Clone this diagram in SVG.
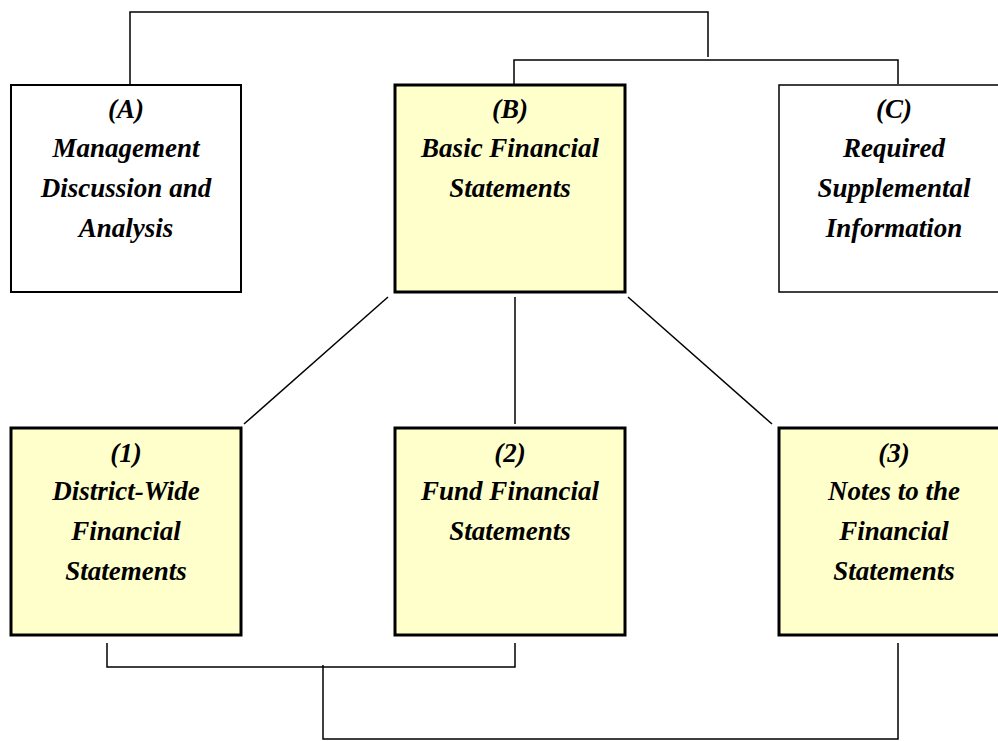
<svg xmlns="http://www.w3.org/2000/svg" width="998" height="741" viewBox="0 0 998 741">
<style>
.box{stroke:#000}
.y{fill:#FFFFCC;stroke-width:3}
.w{fill:#fff;stroke-width:2}
text{font-family:"Liberation Serif",serif;font-style:italic;font-weight:bold;font-size:27px;fill:#000;text-anchor:middle}
.c line,.c polyline{stroke:#000;stroke-width:1.5;fill:none}
</style>
<rect width="998" height="741" fill="#fff"/>
<g class="c" id="connectors">
<polyline points="130,84 130,12 708,12 708,57"/>
<polyline points="514,84 514,60 898,60 898,84"/>
<line x1="388" y1="297" x2="244" y2="424"/>
<line x1="515" y1="297" x2="515" y2="424"/>
<line x1="628" y1="297" x2="772" y2="424"/>
<polyline points="107,643 107,667 515,667 515,643"/>
<polyline points="323,665 323,739 898,739 898,643"/>
</g>
<g id="nodeA">
<rect class="box w" x="11" y="85" width="230" height="207"/>
<text x="126" y="118">(A)</text>
<text x="126" y="157">Management</text>
<text x="126" y="197">Discussion and</text>
<text x="126" y="237">Analysis</text>
</g>
<g id="nodeB">
<rect class="box y" x="395" y="85" width="230" height="207"/>
<text x="510" y="118">(B)</text>
<text x="510" y="157">Basic Financial</text>
<text x="510" y="197">Statements</text>
</g>
<g id="nodeC">
<rect class="box w" x="779" y="85" width="230" height="207" style="stroke-width:1.5"/>
<text x="894" y="118">(C)</text>
<text x="894" y="157">Required</text>
<text x="894" y="197">Supplemental</text>
<text x="894" y="237">Information</text>
</g>
<g id="node1">
<rect class="box y" x="11" y="428" width="230" height="207"/>
<text x="126" y="462">(1)</text>
<text x="126" y="500">District-Wide</text>
<text x="126" y="540">Financial</text>
<text x="126" y="580">Statements</text>
</g>
<g id="node2">
<rect class="box y" x="395" y="428" width="230" height="207"/>
<text x="510" y="462">(2)</text>
<text x="510" y="500">Fund Financial</text>
<text x="510" y="540">Statements</text>
</g>
<g id="node3">
<rect class="box y" x="779" y="428" width="230" height="207"/>
<text x="894" y="462">(3)</text>
<text x="894" y="500">Notes to the</text>
<text x="894" y="540">Financial</text>
<text x="894" y="580">Statements</text>
</g>
</svg>
